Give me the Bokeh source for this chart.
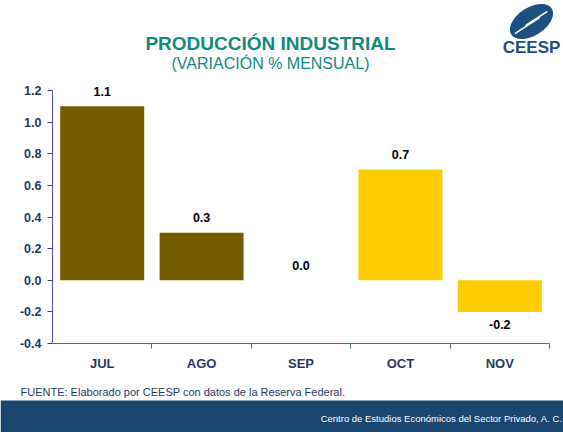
import numpy as np
from bokeh.plotting import figure
from bokeh.models import (ColumnDataSource, FixedTicker, LabelSet, Label,
                          BoxAnnotation, PolyAnnotation, NumeralTickFormatter,
                          LinearAxis, Range1d)
from bokeh.core.properties import value
from bokeh.embed import file_html
from bokeh.resources import INLINE

# ---- data ----
months = ["JUL", "AGO", "SEP", "OCT", "NOV"]
values = [1.1, 0.3, 0.0, 0.7, -0.2]
value_labels = ["1.1", "0.3", "0.0", "0.7", "-0.2"]
y_ticks = [-0.4, -0.2, 0.0, 0.2, 0.4, 0.6, 0.8, 1.0, 1.2]

title = "PRODUCCIÓN INDUSTRIAL"
subtitle = "(VARIACIÓN % MENSUAL)"
source_note = "FUENTE: Elaborado por CEESP con datos de la Reserva Federal."
band_text = "Centro de Estudios Económicos del Sector Privado, A. C."

OLIVE = "#735B00"
YELLOW = "#FFCC00"
NAVY = "#1F3864"
TEAL = "#118A7E"
LOGO = "#1C4F82"
FONT = "Liberation Sans"

W, H = 563, 432
# plot area in page pixels
L, R, T, B = 52, 549, 90, 343
Y0, Y1 = -0.4, 1.2
N = len(months)
kx = (R - L) / N
ky = (B - T) / (Y1 - Y0)

colors = [OLIVE, OLIVE, YELLOW, YELLOW, YELLOW]
xs = [i + 0.5 for i in range(N)]
offsets = [15 if v >= 0 else -13 for v in values]

src = ColumnDataSource(dict(x=xs, top=values, color=colors,
                            lab=value_labels, off=offsets))

p = figure(width=W, height=H,
           x_range=Range1d(-L / kx, N + (W - R) / kx),
           y_range=Range1d(Y0 - (H - B) / ky, Y1 + T / ky),
           output_backend="svg", toolbar_location=None,
           x_axis_location=None, y_axis_location=None,
           min_border=0)
p.outline_line_color = None
p.xgrid.visible = False
p.ygrid.visible = False
p.background_fill_color = "white"
p.border_fill_color = "white"


def sx(xr):
    return xr


def sy(yr):
    return H - yr


# bottom band
p.add_layout(BoxAnnotation(left=0, right=W, bottom=0, top=sy(400),
                           left_units="screen", right_units="screen",
                           bottom_units="screen", top_units="screen",
                           fill_color="#1B466F", fill_alpha=1,
                           line_color=None, level="underlay"))

p.vbar(x="x", top="top", bottom=0, width=0.845, fill_color="color",
       line_color=None, source=src)

labels = LabelSet(x="x", y="top", text="lab", y_offset="off", source=src,
                  text_align="center", text_baseline="middle",
                  text_font=value(FONT), text_font_size="12.5px",
                  text_font_style="bold", text_color="black")
p.add_layout(labels)

# y axis
yax = LinearAxis(fixed_location=0, bounds=(Y0, Y1))
yax.ticker = FixedTicker(ticks=y_ticks)
yax.formatter = NumeralTickFormatter(format="0.0")
yax.axis_line_color = "#5A50C0"
yax.major_tick_line_color = "#3A3A9A"
yax.major_tick_out = 5
yax.major_tick_in = 0
yax.minor_tick_line_color = None
yax.major_label_text_font = FONT
yax.major_label_text_font_style = "bold"
yax.major_label_text_font_size = "12.5px"
yax.major_label_text_color = NAVY
yax.major_label_standoff = 6
p.add_layout(yax, "left")

# x axis
xax = LinearAxis(fixed_location=Y0, bounds=(0, N))
xax.ticker = FixedTicker(ticks=xs, minor_ticks=list(range(1, N + 1)))
xax.major_label_overrides = {x: m for x, m in zip(xs, months)}
xax.axis_line_color = "#4A6FA0"
xax.major_tick_line_color = None
xax.minor_tick_line_color = "#4A6FA0"
xax.minor_tick_out = 5
xax.minor_tick_in = 0
xax.major_label_text_font = FONT
xax.major_label_text_font_style = "bold"
xax.major_label_text_font_size = "13px"
xax.major_label_text_color = NAVY
xax.major_label_standoff = 6
p.add_layout(xax, "below")

# title
p.add_layout(Label(x=sx(270), y=sy(43), x_units="screen", y_units="screen",
                   text=title, text_align="center", text_baseline="middle",
                   text_font=FONT, text_font_style="bold",
                   text_font_size="19px", text_color=TEAL))
p.add_layout(Label(x=sx(270), y=sy(63), x_units="screen", y_units="screen",
                   text=subtitle, text_align="center", text_baseline="middle",
                   text_font=FONT, text_font_size="16px", text_color=TEAL))

# source note
p.add_layout(Label(x=sx(20), y=sy(391), x_units="screen", y_units="screen",
                   text=source_note, text_align="left", text_baseline="middle",
                   text_font=FONT, text_font_size="11px", text_color=NAVY))

p.add_layout(Label(x=sx(562), y=sy(418), x_units="screen", y_units="screen",
                   text=band_text, text_align="right", text_baseline="middle",
                   text_font=FONT, text_font_size="9.5px", text_color="white"))

# logo
t = np.linspace(0, 2 * np.pi, 72)
ang = np.deg2rad(33)
a, b = 24, 14
cx, cy = 531, 21
ex = cx + a * np.cos(t) * np.cos(ang) - b * np.sin(t) * np.sin(ang)
ey = cy - (a * np.cos(t) * np.sin(ang) + b * np.sin(t) * np.cos(ang))
p.add_layout(PolyAnnotation(xs=[sx(v) for v in ex], ys=[sy(v) for v in ey],
                            xs_units="screen", ys_units="screen",
                            fill_color=LOGO, fill_alpha=1,
                            line_color=None))
ux, uy = np.cos(ang), -np.sin(ang)
for dx, dy, ln in [(-4, 3, 15), (5, -4, 13)]:
    x0, y0 = cx + dx, cy + dy
    px = [x0 - ux * ln, x0 + ux * ln, x0 + ux * ln, x0 - ux * ln]
    py = [y0 - uy * ln, y0 + uy * ln, y0 + uy * ln + 1.8, y0 - uy * ln + 1.8]
    p.add_layout(PolyAnnotation(xs=[sx(v) for v in px], ys=[sy(v) for v in py],
                                xs_units="screen", ys_units="screen",
                                fill_color="white", fill_alpha=1,
                                line_color=None))
p.add_layout(Label(x=sx(531), y=sy(47), x_units="screen", y_units="screen",
                   text="CEESP", text_align="center", text_baseline="middle",
                   text_font=FONT, text_font_style="bold",
                   text_font_size="17px", text_color=LOGO))

open("out.html", "w").write(file_html(p, INLINE))
